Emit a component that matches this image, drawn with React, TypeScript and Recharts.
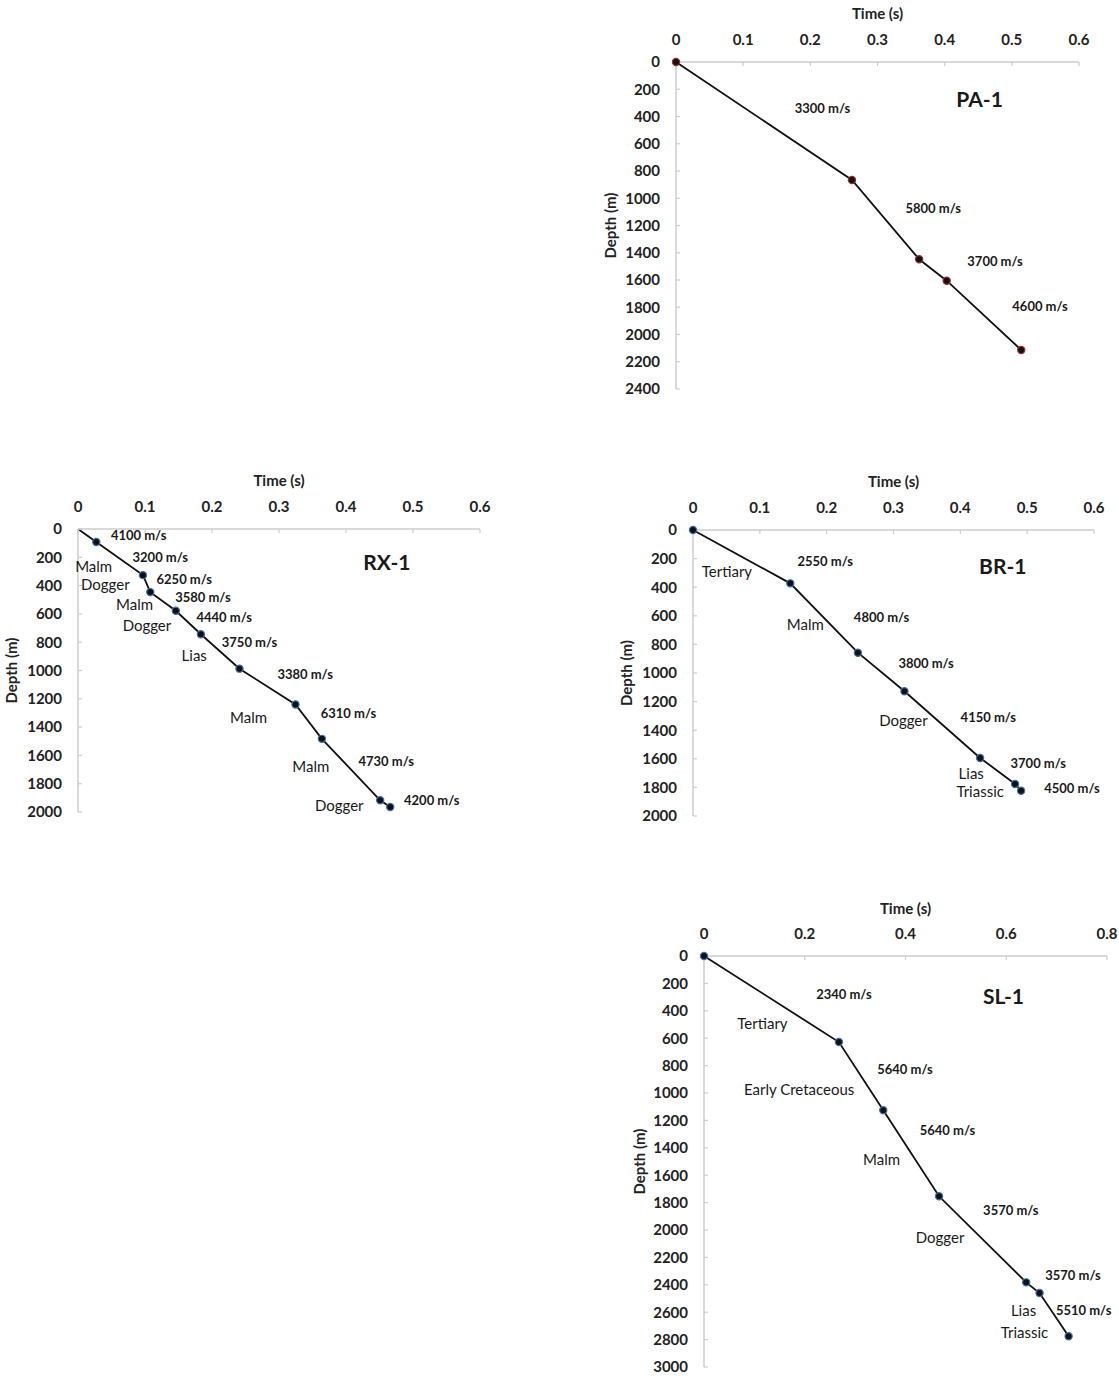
import React from 'react';
import { ComposedChart, Line, Scatter, XAxis, YAxis } from 'recharts';

// ---------- axis ticks ----------
const timeTicks06 = [0, 0.1, 0.2, 0.3, 0.4, 0.5, 0.6];
const timeTicks08 = [0, 0.2, 0.4, 0.6, 0.8];
const depthTicks2000 = [0, 200, 400, 600, 800, 1000, 1200, 1400, 1600, 1800, 2000];
const depthTicks2400 = [0, 200, 400, 600, 800, 1000, 1200, 1400, 1600, 1800, 2000, 2200, 2400];
const depthTicks3000 = [0, 200, 400, 600, 800, 1000, 1200, 1400, 1600, 1800, 2000, 2200, 2400, 2600, 2800, 3000];

// ---------- PA-1 ----------
const paTime = [0, 0.262, 0.362, 0.403, 0.514];
const paDepth = [0, 866, 1448, 1605, 2114];
const paVelocity = [
  { label: '3300 m/s', t: 0.218, d: 340 },
  { label: '5800 m/s', t: 0.383, d: 1074 },
  { label: '3700 m/s', t: 0.475, d: 1461 },
  { label: '4600 m/s', t: 0.542, d: 1791 },
];
const paFormations: { label: string; t: number; d: number }[] = [];
const paTitle = [{ label: 'PA-1', t: 0.452, d: 267 }];

// ---------- RX-1 ----------
const rxTime = [0, 0.0273, 0.0969, 0.1079, 0.146, 0.1834, 0.241, 0.3246, 0.364, 0.451, 0.466];
const rxDepth = [0, 92, 326, 446, 578, 744, 987, 1240, 1483, 1917, 1965];
const rxVelocity = [
  { label: '4100 m/s', t: 0.0905, d: 40 },
  { label: '3200 m/s', t: 0.1228, d: 201 },
  { label: '6250 m/s', t: 0.1586, d: 354 },
  { label: '3580 m/s', t: 0.1864, d: 482 },
  { label: '4440 m/s', t: 0.2182, d: 619 },
  { label: '3750 m/s', t: 0.256, d: 800 },
  { label: '3380 m/s', t: 0.339, d: 1025 },
  { label: '6310 m/s', t: 0.4037, d: 1299 },
  { label: '4730 m/s', t: 0.46, d: 1641 },
  { label: '4200 m/s', t: 0.528, d: 1913 },
];
const rxFormations = [
  { label: 'Malm', t: 0.0234, d: 258 },
  { label: 'Dogger', t: 0.0408, d: 392 },
  { label: 'Malm', t: 0.0845, d: 528 },
  { label: 'Dogger', t: 0.1029, d: 680 },
  { label: 'Lias', t: 0.1735, d: 893 },
  { label: 'Malm', t: 0.2545, d: 1327 },
  { label: 'Malm', t: 0.3475, d: 1677 },
  { label: 'Dogger', t: 0.39, d: 1948 },
];
const rxTitle = [{ label: 'RX-1', t: 0.461, d: 229 }];

// ---------- BR-1 ----------
const brTime = [0, 0.1455, 0.2467, 0.3164, 0.4296, 0.4819, 0.4909];
const brDepth = [0, 373, 858, 1128, 1594, 1776, 1823];
const brVelocity = [
  { label: '2550 m/s', t: 0.1978, d: 219 },
  { label: '4800 m/s', t: 0.2822, d: 611 },
  { label: '3800 m/s', t: 0.3488, d: 932 },
  { label: '4150 m/s', t: 0.4419, d: 1305 },
  { label: '3700 m/s', t: 0.5166, d: 1632 },
  { label: '4500 m/s', t: 0.567, d: 1804 },
];
const brFormations = [
  { label: 'Tertiary', t: 0.0508, d: 284 },
  { label: 'Malm', t: 0.168, d: 660 },
  { label: 'Dogger', t: 0.3149, d: 1329 },
  { label: 'Lias', t: 0.4163, d: 1698 },
  { label: 'Triassic', t: 0.4297, d: 1826 },
];
const brTitle = [{ label: 'BR-1', t: 0.4635, d: 249 }];

// ---------- SL-1 ----------
const slTime = [0, 0.2678, 0.3559, 0.4666, 0.6396, 0.6661, 0.7238];
const slDepth = [0, 628, 1126, 1754, 2382, 2460, 2776];
const slVelocity = [
  { label: '2340 m/s', t: 0.2777, d: 280 },
  { label: '5640 m/s', t: 0.399, d: 822 },
  { label: '5640 m/s', t: 0.4832, d: 1272 },
  { label: '3570 m/s', t: 0.6091, d: 1854 },
  { label: '3570 m/s', t: 0.7324, d: 2331 },
  { label: '5510 m/s', t: 0.7536, d: 2584 },
];
const slFormations = [
  { label: 'Tertiary', t: 0.116, d: 487 },
  { label: 'Early Cretaceous', t: 0.1889, d: 968 },
  { label: 'Malm', t: 0.3526, d: 1484 },
  { label: 'Dogger', t: 0.4686, d: 2054 },
  { label: 'Lias', t: 0.6343, d: 2584 },
  { label: 'Triassic', t: 0.6363, d: 2742 },
];
const slTitle = [{ label: 'SL-1', t: 0.5945, d: 287 }];

const FONT = 'Lato, "Open Sans", sans-serif';
const AXIS_COLOR = '#cdcdcd';

type Lbl = { label: string; t: number; d: number };

function makeTextShape(fontSize: number, fontWeight: number) {
  return (p: any) => (
    <text
      x={p.cx}
      y={p.cy}
      textAnchor="middle"
      dominantBaseline="central"
      fontFamily={FONT}
      fontSize={fontSize}
      fontWeight={fontWeight}
      fill="#1a1a1a"
    >
      {p.payload.label}
    </text>
  );
}

const velShape = makeTextShape(13, 700);
const formShape = makeTextShape(15, 400);
const titleShape = makeTextShape(21, 700);

interface PanelProps {
  left: number;
  top: number;
  plotLeft: number;
  plotTop: number;
  plotW: number;
  plotH: number;
  yLabelOffset: number;
  xTicks: number[];
  yTicks: number[];
  time: number[];
  depth: number[];
  velocity: Lbl[];
  formations: Lbl[];
  title: Lbl[];
  dotStroke: string;
  hideFirstDot?: boolean;
}

function Panel(props: PanelProps) {
  const {
    left, top, plotLeft, plotTop, plotW, plotH, yLabelOffset,
    xTicks, yTicks, time, depth, velocity, formations, title, dotStroke, hideFirstDot,
  } = props;
  const yW = plotLeft - left;
  const xH = plotTop - top;
  const right = 24;
  const bottom = 10;
  const width = yW + plotW + right;
  const height = xH + plotH + bottom;
  const data = time.map((t, i) => ({ t, d: depth[i] }));

  const renderDot = (p: any) => {
    if (hideFirstDot && p.index === 0) return <g key={`dot-${p.index}`} />;
    return (
      <circle
        key={`dot-${p.index}`}
        cx={p.cx}
        cy={p.cy}
        r={3.6}
        fill="#111"
        stroke={dotStroke}
        strokeWidth={1.2}
      />
    );
  };

  return (
    <div style={{ position: 'absolute', left, top, width, height }}>
      <ComposedChart
        width={width}
        height={height}
        data={data}
        margin={{ top: 0, left: 0, right, bottom }}
      >
        <XAxis
          type="number"
          dataKey="t"
          orientation="top"
          domain={[xTicks[0], xTicks[xTicks.length - 1]]}
          ticks={xTicks}
          interval={0}
          height={xH}
          axisLine={{ stroke: AXIS_COLOR, strokeWidth: 1.5 }}
          tickLine={{ stroke: AXIS_COLOR, strokeWidth: 1.2 }}
          tickSize={-4}
          tickMargin={21}
          tick={{ fill: '#222', fontSize: 15, fontWeight: 700, fontFamily: FONT }}
          label={{
            value: 'Time (s)',
            position: 'insideTop',
            offset: 8,
            style: { fill: '#222', fontSize: 15, fontWeight: 700, fontFamily: FONT },
          }}
        />
        <YAxis
          type="number"
          dataKey="d"
          reversed
          domain={[yTicks[0], yTicks[yTicks.length - 1]]}
          ticks={yTicks}
          interval={0}
          width={yW}
          axisLine={{ stroke: AXIS_COLOR, strokeWidth: 1.5 }}
          tickLine={{ stroke: AXIS_COLOR, strokeWidth: 1.2 }}
          tickSize={-4}
          tickMargin={20}
          tick={{ fill: '#222', fontSize: 15, fontWeight: 700, fontFamily: FONT }}
          label={{
            value: 'Depth (m)',
            angle: -90,
            position: 'insideLeft',
            offset: yLabelOffset,
            style: { textAnchor: 'middle', fill: '#222', fontSize: 15, fontWeight: 700, fontFamily: FONT },
          }}
        />
        <Line
          dataKey="d"
          type="linear"
          stroke="#111"
          strokeWidth={1.8}
          dot={renderDot}
          activeDot={false}
          isAnimationActive={false}
        />
        <Scatter data={velocity} shape={velShape} isAnimationActive={false} />
        <Scatter data={formations} shape={formShape} isAnimationActive={false} />
        <Scatter data={title} shape={titleShape} isAnimationActive={false} />
      </ComposedChart>
    </div>
  );
}

export default function App() {
  return (
    <div
      style={{
        position: 'absolute',
        left: 0,
        top: 0,
        width: 1119,
        height: 1376,
        background: '#fff',
        overflow: 'hidden',
      }}
    >
      <Panel
        left={596}
        top={0}
        plotLeft={676}
        plotTop={62}
        plotW={403}
        plotH={327}
        yLabelOffset={15}
        xTicks={timeTicks06}
        yTicks={depthTicks2400}
        time={paTime}
        depth={paDepth}
        velocity={paVelocity}
        formations={paFormations}
        title={paTitle}
        dotStroke="#9b2c2c"
      />
      <Panel
        left={0}
        top={467}
        plotLeft={78}
        plotTop={529}
        plotW={402}
        plotH={283}
        yLabelOffset={12}
        xTicks={timeTicks06}
        yTicks={depthTicks2000}
        time={rxTime}
        depth={rxDepth}
        velocity={rxVelocity}
        formations={rxFormations}
        title={rxTitle}
        dotStroke="#3f6fae"
        hideFirstDot
      />
      <Panel
        left={612}
        top={468}
        plotLeft={693}
        plotTop={530}
        plotW={401}
        plotH={286}
        yLabelOffset={15}
        xTicks={timeTicks06}
        yTicks={depthTicks2000}
        time={brTime}
        depth={brDepth}
        velocity={brVelocity}
        formations={brFormations}
        title={brTitle}
        dotStroke="#3f6fae"
      />
      <Panel
        left={624}
        top={895}
        plotLeft={704}
        plotTop={956}
        plotW={403}
        plotH={411}
        yLabelOffset={16}
        xTicks={timeTicks08}
        yTicks={depthTicks3000}
        time={slTime}
        depth={slDepth}
        velocity={slVelocity}
        formations={slFormations}
        title={slTitle}
        dotStroke="#3f6fae"
      />
    </div>
  );
}
